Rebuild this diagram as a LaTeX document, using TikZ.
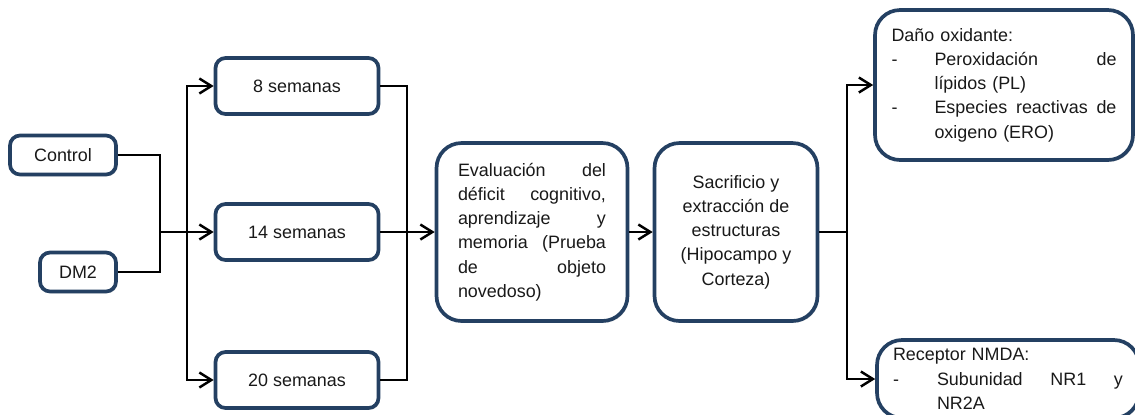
\documentclass[tikz,border=0pt]{standalone}
\usepackage{fontspec}
\setmainfont{Liberation Sans}
\usetikzlibrary{arrows.meta,shadows}
\definecolor{marco}{RGB}{36,64,98}
\tikzset{->/.style = {-{Straight Barb[length=2.4mm,width=3mm]}}}
\tikzset{caja/.style = {draw=marco, line width=2.1pt, rounded corners=0.2cm, fill=white,
                        drop shadow={opacity=0.3, shadow xshift=0.8pt, shadow yshift=-1pt},
                        font=\fontsize{10.2}{13.8}\selectfont, text=black!90},
         cajagrande/.style = {caja, rounded corners=0.5cm}}

\begin{document}
\begin{tikzpicture}[x = 0.02cm, y = -0.02cm, line width = 1.4pt]
\useasboundingbox (0,0) rectangle (1135,414);
\clip (0,0) rectangle (1135,414);
% grupos
\node[caja, minimum width=2.12cm, minimum height=0.78cm] (control) at (63,155) {Control};
\node[caja, minimum width=1.52cm, minimum height=0.78cm] (dm2) at (78,272) {DM2};
% tiempos
\node[caja, minimum width=3.26cm, minimum height=1.12cm] (s8) at (297,86) {8 semanas};
\node[caja, minimum width=3.26cm, minimum height=1.12cm] (s14) at (297,232) {14 semanas};
\node[caja, minimum width=3.26cm, minimum height=1.12cm] (s20) at (297,380) {20 semanas};
% pruebas
\node[cajagrande, minimum width=3.82cm, minimum height=3.56cm, text width=2.96cm, align=left] (eval) at (532,232)
  {Evaluación\hfill del\\ déficit\hfill cognitivo,\\ aprendizaje\hfill y\\ memoria\hfill (Prueba\\ de\hfill objeto\\ novedoso)};
\node[cajagrande, minimum width=3.26cm, minimum height=3.56cm, align=center] (sacr) at (736,232)
  {Sacrificio y\\ extracción de\\ estructuras\\ (Hipocampo y\\ Corteza)};
\node[cajagrande, minimum width=5.16cm, minimum height=3cm, text width=4.5cm, align=left] (dano) at (1004,85)
  {Daño oxidante:\\ \makebox[0.86cm][l]{-}Peroxidación\hfill de\\ \hspace*{0.86cm}lípidos (PL)\\
   \makebox[0.86cm][l]{-}Especies\hfill reactivas\hfill de\\ \hspace*{0.86cm}oxigeno (ERO)};
\node[cajagrande, minimum width=5.24cm, minimum height=1.56cm, text width=4.6cm, align=left] (recep) at (1008,379)
  {Receptor NMDA:\\ \makebox[0.88cm][l]{-}Subunidad\hfill NR1\hfill y\\ \hspace*{0.88cm}NR2A};
% conectores
\coordinate (mid) at (160,232);
\coordinate (split) at (187,232);
\coordinate (join) at (407,232);
\coordinate (fork) at (847,232);
\draw (control.east) -| (mid);
\draw (dm2.east) -| (mid);
\draw [->] (mid) -- (s14.west);
\draw [->] (split) |- (s8.west);
\draw [->] (split) |- (s20.west);
\draw (s8.east) -| (join);
\draw (s20.east) -| (join);
\draw [->] (s14.east) -- (eval.west);
\draw [->] (eval.east) -- (sacr.west);
\draw (sacr.east) -- (fork);
\draw [->] (fork) |- (dano.west);
\draw [->] (fork) |- (recep.west);
\end{tikzpicture}
\end{document}
